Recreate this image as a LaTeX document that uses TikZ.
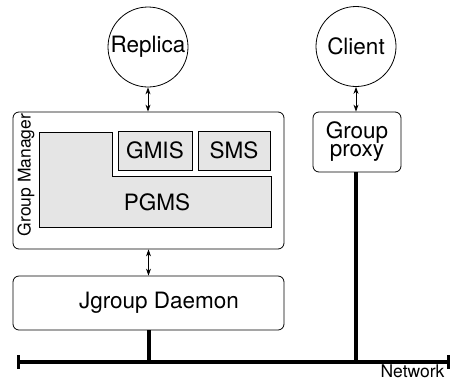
\documentclass[tikz,border=0pt]{standalone}
\usepackage{fontspec}
\setmainfont{TeX Gyre Heros}
\usetikzlibrary{arrows.meta,positioning}
\tikzset{
  bigtext/.style = {font=\fontsize{22.5}{18}\selectfont},
  smalltext/.style = {font=\fontsize{17.5}{20}\selectfont},
  actor/.style = {shape=circle, draw, line width=0.8pt, minimum size=80pt,
                  inner sep=0pt, bigtext},
  roundbox/.style = {shape=rectangle, rounded corners=6pt, draw,
                     line width=0.8pt, inner sep=0pt, bigtext},
  module/.style = {shape=rectangle, draw, line width=0.8pt, fill=gray!20,
                   inner sep=0pt, bigtext},
  link/.style = {{Stealth[length=7pt,width=5pt]}-{Stealth[length=7pt,width=5pt]},
                 line width=0.8pt},
  wire/.style = {line width=4pt},
}

\begin{document}
\begin{tikzpicture}[x=1pt, y=-1pt]
	\useasboundingbox (0,0) rectangle (457,381);
	% top level
	\node [actor] (replica) at (148,47) {Replica};
	\node [actor] (client) at (356,46.5) {Client};
	% group manager and its modules
	\node [roundbox, minimum width=271pt, minimum height=137pt] (gm) at (148.5,180.5) {};
	\node [smalltext, rotate=90] (gmlabel) at (26,175) {Group Manager};
	\draw [line width=0.8pt, fill=gray!20]
		(39,132) -- (112,132) -- (112,176) -- (271,176) -- (271,227) -- (39,227) -- cycle;
	\node [bigtext] (pgms) at (157,202) {PGMS};
	\node [module, minimum width=74pt, minimum height=39pt] (gmis) at (155,150.5) {GMIS};
	\node [module, minimum width=72pt, minimum height=39pt] (sms) at (234,150.5) {SMS};
	% daemon and proxy
	\node [roundbox, minimum width=271pt, minimum height=54pt] (jgd) at (148.5,303) {};
	\node [bigtext] (jgdlabel) at (159,303) {Jgroup Daemon};
	\node [roundbox, align=center, minimum width=88pt, minimum height=60pt] (proxy) at (357,142) {Group\\proxy};
	% network
	\coordinate (netL) at (17,362);
	\coordinate (netR) at (450,362);
	\draw [wire, {Bar[width=14pt,line width=3pt]}-{Bar[width=14pt,line width=3pt]}] (netL) -- (netR);
	\node [smalltext, anchor=east] (netlabel) at (448,371.5) {Network};
	% connections
	\draw [link] (replica.south) -- (replica.south |- gm.north);
	\draw [link] (gm.south) -- (jgd.north);
	\draw [link] (client.south) -- (client.south |- proxy.north);
	\draw [wire] (jgd.south) -- (jgd.south |- netL);
	\draw [wire] (client.south |- proxy.south) -- (client.south |- netL);
\end{tikzpicture}
\end{document}
